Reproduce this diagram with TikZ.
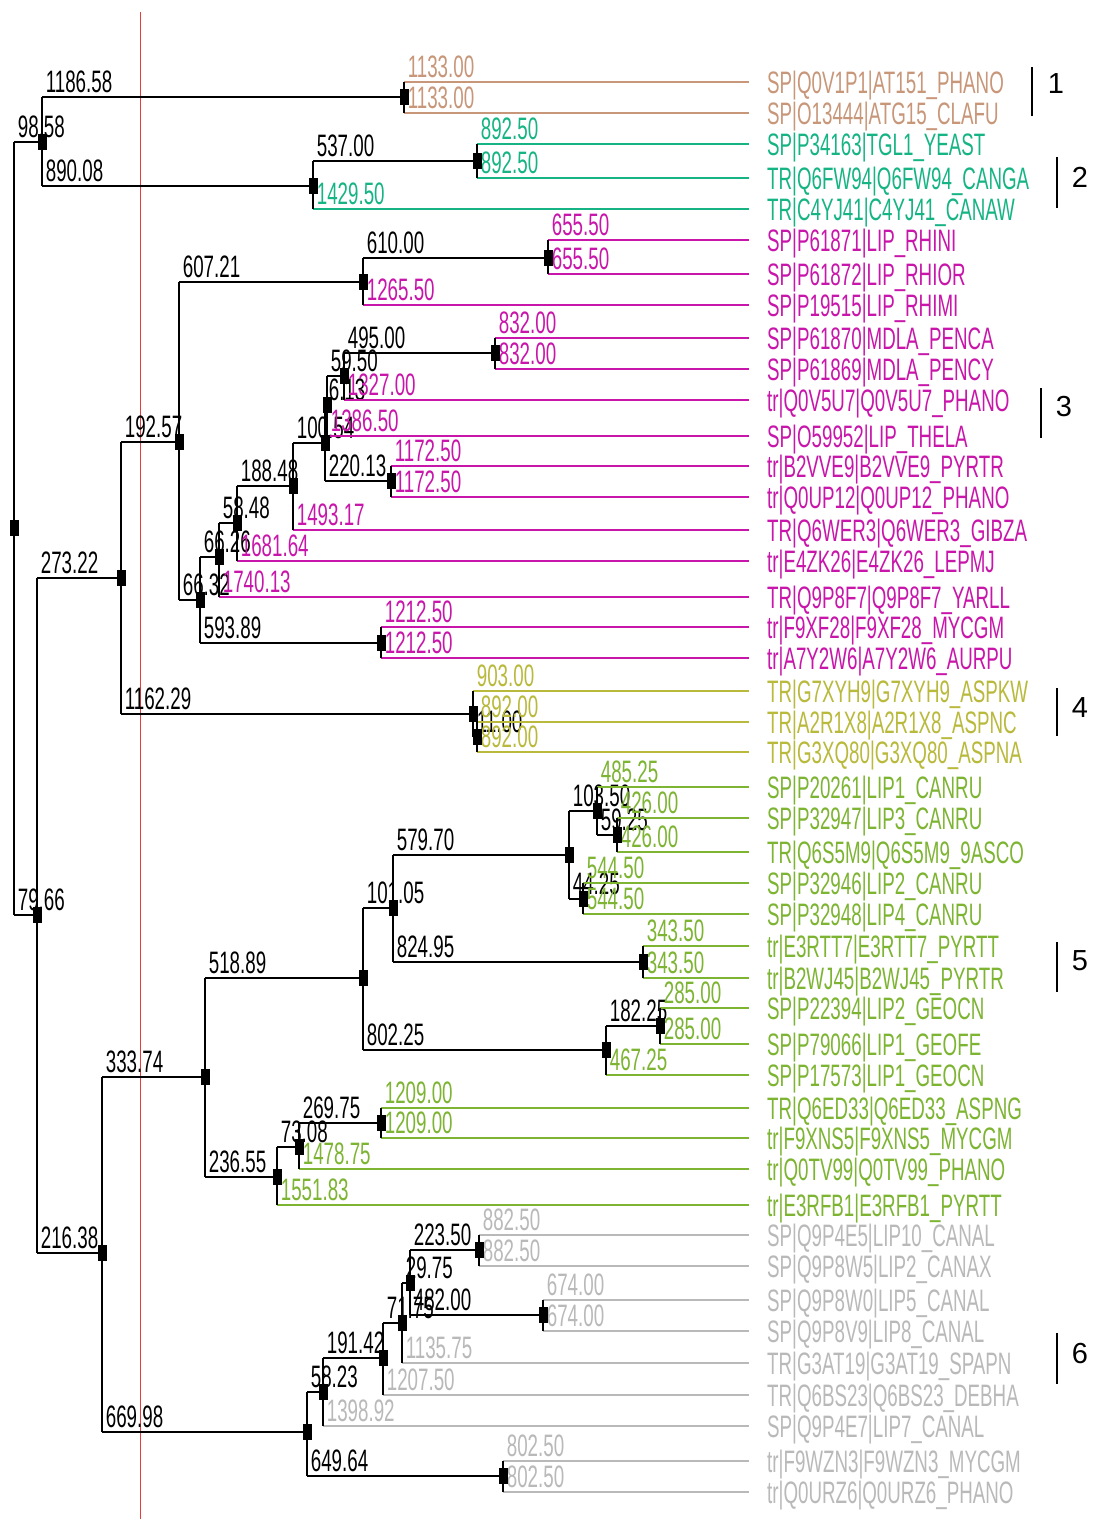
\documentclass[tikz,border=0pt]{standalone}
\usepackage{fontspec}
\setmainfont{Liberation Sans}
\newfontfamily\narrowf[FakeStretch=0.605]{Liberation Sans}
\definecolor{cBrown}{RGB}{200,150,120}
\definecolor{cTeal}{RGB}{22,180,132}
\definecolor{cMag}{RGB}{200,22,170}
\definecolor{cOlive}{RGB}{185,185,60}
\definecolor{cLime}{RGB}{125,180,50}
\definecolor{cGray}{RGB}{185,185,185}
\definecolor{cRed}{RGB}{232,60,60}
\tikzset{
  ln/.style={line width=1.7pt},
  vln/.style={line width=1.3pt, black},
  sq/.style={fill=black, draw=none, minimum width=9pt, minimum height=16pt, inner sep=0pt},
  bl/.style={font=\narrowf\fontsize{31}{33}\selectfont, inner sep=0pt, anchor=base west},
  leaflab/.style={font=\narrowf\fontsize{31}{33}\selectfont, inner sep=0pt, anchor=base west},
  gbar/.style={line width=1.2pt, black},
  gnum/.style={font=\fontsize{29}{31}\selectfont, inner sep=0pt},
}
\newcommand\brch[4]{\draw[ln,#4] (#1 |- #2) -- (#2) node[bl, pos=0, xshift=3pt, yshift=5pt] (t#2) {#3};}
\newcommand\vt[3]{\draw[vln] (#1 |- #2) -- (#1 |- #3);}
\newcommand\lf[3]{\node[leaflab, text=#2] (n#1) at ([xshift=18pt,yshift=-11pt]#1) {#3};}
\begin{document}
\begin{tikzpicture}[x=1pt,y=-1pt]
\useasboundingbox[fill=white] (0,0) rectangle (1093,1519);
% red reference line
\draw[cRed, line width=1pt] (140,12) coordinate (rtop) -- (140,1519) coordinate (rbot);
% leaf end points
\foreach \n/\yy in {1/82,2/113,3/144,4/178,5/209,6/240,7/274,8/305,9/338,10/369,11/400,12/436,13/466,14/497,15/530,16/561,17/597,18/627,19/658,20/691,21/722,22/752,23/787,24/818,25/852,26/883,27/914,28/946,29/978,30/1008,31/1044,32/1075,33/1108,34/1138,35/1169,36/1205,37/1235,38/1266,39/1300,40/1331,41/1363,42/1395,43/1426,44/1461,45/1492}
  {\coordinate (l\n) at (749,\yy);}
% internal nodes
\coordinate (R) at (14,528);
\coordinate (A) at (42,142);
\coordinate (C1) at (404,97);
\coordinate (C2) at (313,186);
\coordinate (C3) at (477,161);
\coordinate (B) at (37,915);
\coordinate (D) at (121,578);
\coordinate (F) at (179,442);
\coordinate (H) at (363,282);
\coordinate (J) at (548,258);
\coordinate (I) at (200,600);
\coordinate (K) at (219,557);
\coordinate (M) at (237,523);
\coordinate (O) at (293,486);
\coordinate (P) at (325,443);
\coordinate (Q) at (327,405);
\coordinate (S) at (344,376);
\coordinate (T) at (495,353);
\coordinate (Rn) at (391,481);
\coordinate (N) at (381,643);
\coordinate (G) at (473,714);
\coordinate (U) at (477,737);
\coordinate (E) at (102,1253);
\coordinate (V) at (205,1077);
\coordinate (X) at (363,978);
\coordinate (Z) at (393,908);
\coordinate (AA) at (569,855);
\coordinate (AD) at (597,811);
\coordinate (AF) at (617,835);
\coordinate (AE) at (583,899);
\coordinate (AB) at (643,962);
\coordinate (AC) at (606,1050);
\coordinate (AG) at (660,1026);
\coordinate (Y) at (277,1177);
\coordinate (AH) at (299,1147);
\coordinate (AI) at (381,1123);
\coordinate (W) at (307,1432);
\coordinate (AJ) at (323,1392);
\coordinate (AL) at (383,1358);
\coordinate (AM) at (402,1323);
\coordinate (AN) at (410,1283);
\coordinate (AO) at (479,1250);
\coordinate (AP) at (543,1315);
\coordinate (AK) at (503,1476);
% horizontal branches with length labels
\brch{R}{A}{98.58}{black}
\brch{R}{B}{79.66}{black}
\brch{A}{C1}{1186.58}{black}
\brch{A}{C2}{890.08}{black}
\brch{C1}{l1}{1133.00}{cBrown}
\brch{C1}{l2}{1133.00}{cBrown}
\brch{C2}{C3}{537.00}{black}
\brch{C2}{l5}{1429.50}{cTeal}
\brch{C3}{l3}{892.50}{cTeal}
\brch{C3}{l4}{892.50}{cTeal}
\brch{B}{D}{273.22}{black}
\brch{B}{E}{216.38}{black}
\brch{D}{F}{192.57}{black}
\brch{D}{G}{1162.29}{black}
\brch{F}{H}{607.21}{black}
\brch{F}{I}{66.32}{black}
\brch{H}{J}{610.00}{black}
\brch{H}{l8}{1265.50}{cMag}
\brch{J}{l6}{655.50}{cMag}
\brch{J}{l7}{655.50}{cMag}
\brch{I}{K}{66.26}{black}
\brch{I}{N}{593.89}{black}
\brch{K}{M}{58.48}{black}
\brch{K}{l17}{1740.13}{cMag}
\brch{M}{O}{188.48}{black}
\brch{M}{l16}{1681.64}{cMag}
\brch{O}{P}{100.54}{black}
\brch{O}{l15}{1493.17}{cMag}
\brch{P}{Q}{6.13}{black}
\brch{P}{Rn}{220.13}{black}
\brch{Q}{S}{59.50}{black}
\brch{Q}{l12}{1386.50}{cMag}
\brch{S}{T}{495.00}{black}
\brch{S}{l11}{1327.00}{cMag}
\brch{T}{l9}{832.00}{cMag}
\brch{T}{l10}{832.00}{cMag}
\brch{Rn}{l13}{1172.50}{cMag}
\brch{Rn}{l14}{1172.50}{cMag}
\brch{N}{l18}{1212.50}{cMag}
\brch{N}{l19}{1212.50}{cMag}
\brch{G}{l20}{903.00}{cOlive}
\brch{G}{U}{11.00}{black}
\brch{U}{l21}{892.00}{cOlive}
\brch{U}{l22}{892.00}{cOlive}
\brch{E}{V}{333.74}{black}
\brch{E}{W}{669.98}{black}
\brch{V}{X}{518.89}{black}
\brch{V}{Y}{236.55}{black}
\brch{X}{Z}{101.05}{black}
\brch{X}{AC}{802.25}{black}
\brch{Z}{AA}{579.70}{black}
\brch{Z}{AB}{824.95}{black}
\brch{AA}{AD}{103.50}{black}
\brch{AA}{AE}{44.25}{black}
\brch{AD}{l23}{485.25}{cLime}
\brch{AD}{AF}{59.25}{black}
\brch{AF}{l24}{426.00}{cLime}
\brch{AF}{l25}{426.00}{cLime}
\brch{AE}{l26}{544.50}{cLime}
\brch{AE}{l27}{544.50}{cLime}
\brch{AB}{l28}{343.50}{cLime}
\brch{AB}{l29}{343.50}{cLime}
\brch{AC}{AG}{182.25}{black}
\brch{AC}{l32}{467.25}{cLime}
\brch{AG}{l30}{285.00}{cLime}
\brch{AG}{l31}{285.00}{cLime}
\brch{Y}{AH}{73.08}{black}
\brch{Y}{l36}{1551.83}{cLime}
\brch{AH}{AI}{269.75}{black}
\brch{AH}{l35}{1478.75}{cLime}
\brch{AI}{l33}{1209.00}{cLime}
\brch{AI}{l34}{1209.00}{cLime}
\brch{W}{AJ}{58.23}{black}
\brch{W}{AK}{649.64}{black}
\brch{AJ}{AL}{191.42}{black}
\brch{AJ}{l43}{1398.92}{cGray}
\brch{AL}{AM}{71.75}{black}
\brch{AL}{l42}{1207.50}{cGray}
\brch{AM}{AN}{29.75}{black}
\brch{AM}{l41}{1135.75}{cGray}
\brch{AN}{AO}{223.50}{black}
\brch{AN}{AP}{482.00}{black}
\brch{AO}{l37}{882.50}{cGray}
\brch{AO}{l38}{882.50}{cGray}
\brch{AP}{l39}{674.00}{cGray}
\brch{AP}{l40}{674.00}{cGray}
\brch{AK}{l44}{802.50}{cGray}
\brch{AK}{l45}{802.50}{cGray}
% vertical connectors
\vt{R}{A}{B}
\vt{A}{C1}{C2}
\vt{C1}{l1}{l2}
\vt{C2}{C3}{l5}
\vt{C3}{l3}{l4}
\vt{B}{D}{E}
\vt{D}{F}{G}
\vt{F}{H}{I}
\vt{H}{J}{l8}
\vt{J}{l6}{l7}
\vt{I}{K}{N}
\vt{K}{M}{l17}
\vt{M}{O}{l16}
\vt{O}{P}{l15}
\vt{P}{Q}{Rn}
\vt{Q}{S}{l12}
\vt{S}{T}{l11}
\vt{T}{l9}{l10}
\vt{Rn}{l13}{l14}
\vt{N}{l18}{l19}
\vt{G}{l20}{U}
\vt{U}{l21}{l22}
\vt{E}{V}{W}
\vt{V}{X}{Y}
\vt{X}{Z}{AC}
\vt{Z}{AA}{AB}
\vt{AA}{AD}{AE}
\vt{AD}{l23}{AF}
\vt{AF}{l24}{l25}
\vt{AE}{l26}{l27}
\vt{AB}{l28}{l29}
\vt{AC}{AG}{l32}
\vt{AG}{l30}{l31}
\vt{Y}{AH}{l36}
\vt{AH}{AI}{l35}
\vt{AI}{l33}{l34}
\vt{W}{AJ}{AK}
\vt{AJ}{AL}{l43}
\vt{AL}{AM}{l42}
\vt{AM}{AN}{l41}
\vt{AN}{AO}{AP}
\vt{AO}{l37}{l38}
\vt{AP}{l39}{l40}
\vt{AK}{l44}{l45}
% node markers
\foreach \c in {R,A,C1,C2,C3,B,D,F,H,J,I,K,M,O,P,Q,S,T,Rn,N,G,U,E,V,X,Z,AA,AD,AF,AE,AB,AC,AG,Y,AH,AI,W,AJ,AL,AM,AN,AO,AP,AK}
  {\node[sq] (m\c) at (\c) {};}
% leaf labels
\lf{l1}{cBrown}{SP|Q0V1P1|AT151\_PHANO}
\lf{l2}{cBrown}{SP|O13444|ATG15\_CLAFU}
\lf{l3}{cTeal}{SP|P34163|TGL1\_YEAST}
\lf{l4}{cTeal}{TR|Q6FW94|Q6FW94\_CANGA}
\lf{l5}{cTeal}{TR|C4YJ41|C4YJ41\_CANAW}
\lf{l6}{cMag}{SP|P61871|LIP\_RHINI}
\lf{l7}{cMag}{SP|P61872|LIP\_RHIOR}
\lf{l8}{cMag}{SP|P19515|LIP\_RHIMI}
\lf{l9}{cMag}{SP|P61870|MDLA\_PENCA}
\lf{l10}{cMag}{SP|P61869|MDLA\_PENCY}
\lf{l11}{cMag}{tr|Q0V5U7|Q0V5U7\_PHANO}
\lf{l12}{cMag}{SP|O59952|LIP\_THELA}
\lf{l13}{cMag}{tr|B2VVE9|B2VVE9\_PYRTR}
\lf{l14}{cMag}{tr|Q0UP12|Q0UP12\_PHANO}
\lf{l15}{cMag}{TR|Q6WER3|Q6WER3\_GIBZA}
\lf{l16}{cMag}{tr|E4ZK26|E4ZK26\_LEPMJ}
\lf{l17}{cMag}{TR|Q9P8F7|Q9P8F7\_YARLL}
\lf{l18}{cMag}{tr|F9XF28|F9XF28\_MYCGM}
\lf{l19}{cMag}{tr|A7Y2W6|A7Y2W6\_AURPU}
\lf{l20}{cOlive}{TR|G7XYH9|G7XYH9\_ASPKW}
\lf{l21}{cOlive}{TR|A2R1X8|A2R1X8\_ASPNC}
\lf{l22}{cOlive}{TR|G3XQ80|G3XQ80\_ASPNA}
\lf{l23}{cLime}{SP|P20261|LIP1\_CANRU}
\lf{l24}{cLime}{SP|P32947|LIP3\_CANRU}
\lf{l25}{cLime}{TR|Q6S5M9|Q6S5M9\_9ASCO}
\lf{l26}{cLime}{SP|P32946|LIP2\_CANRU}
\lf{l27}{cLime}{SP|P32948|LIP4\_CANRU}
\lf{l28}{cLime}{tr|E3RTT7|E3RTT7\_PYRTT}
\lf{l29}{cLime}{tr|B2WJ45|B2WJ45\_PYRTR}
\lf{l30}{cLime}{SP|P22394|LIP2\_GEOCN}
\lf{l31}{cLime}{SP|P79066|LIP1\_GEOFE}
\lf{l32}{cLime}{SP|P17573|LIP1\_GEOCN}
\lf{l33}{cLime}{TR|Q6ED33|Q6ED33\_ASPNG}
\lf{l34}{cLime}{tr|F9XNS5|F9XNS5\_MYCGM}
\lf{l35}{cLime}{tr|Q0TV99|Q0TV99\_PHANO}
\lf{l36}{cLime}{tr|E3RFB1|E3RFB1\_PYRTT}
\lf{l37}{cGray}{SP|Q9P4E5|LIP10\_CANAL}
\lf{l38}{cGray}{SP|Q9P8W5|LIP2\_CANAX}
\lf{l39}{cGray}{SP|Q9P8W0|LIP5\_CANAL}
\lf{l40}{cGray}{SP|Q9P8V9|LIP8\_CANAL}
\lf{l41}{cGray}{TR|G3AT19|G3AT19\_SPAPN}
\lf{l42}{cGray}{TR|Q6BS23|Q6BS23\_DEBHA}
\lf{l43}{cGray}{SP|Q9P4E7|LIP7\_CANAL}
\lf{l44}{cGray}{tr|F9WZN3|F9WZN3\_MYCGM}
\lf{l45}{cGray}{tr|Q0URZ6|Q0URZ6\_PHANO}
% group bars and numbers
\draw[gbar] (1032,67) coordinate (g1a) -- (1032,116) coordinate (g1b);
\node[gnum] (g1) at (1056,84) {1};
\draw[gbar] (1057,157) coordinate (g2a) -- (1057,208) coordinate (g2b);
\node[gnum] (g2) at (1080,177) {2};
\draw[gbar] (1041,388) coordinate (g3a) -- (1041,438) coordinate (g3b);
\node[gnum] (g3) at (1064,407) {3};
\draw[gbar] (1057,688) coordinate (g4a) -- (1057,736) coordinate (g4b);
\node[gnum] (g4) at (1080,708) {4};
\draw[gbar] (1057,942) coordinate (g5a) -- (1057,992) coordinate (g5b);
\node[gnum] (g5) at (1080,961) {5};
\draw[gbar] (1057,1333) coordinate (g6a) -- (1057,1384) coordinate (g6b);
\node[gnum] (g6) at (1080,1353) {6};
\end{tikzpicture}
\end{document}
